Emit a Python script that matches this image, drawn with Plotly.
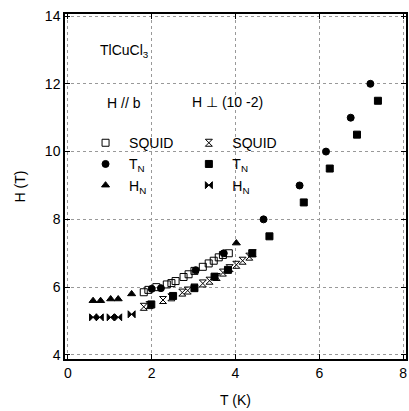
import plotly.graph_objects as go

# ---- data (T in K, H in T) ----
b_squid_T = [1.81, 1.92, 2.11, 2.36, 2.47, 2.57, 2.76, 2.88, 3.02, 3.22, 3.36, 3.48, 3.60, 3.70, 3.84]
b_squid_H = [5.85, 5.92, 6.00, 6.08, 6.12, 6.18, 6.30, 6.38, 6.48, 6.60, 6.70, 6.78, 6.88, 6.95, 7.00]

b_TN_T = [2.00, 2.22, 3.05, 3.72, 4.67, 5.53, 6.16, 6.75, 7.22]
b_TN_H = [5.95, 5.97, 6.50, 7.00, 8.00, 9.00, 10.00, 11.00, 12.00]

b_HN_T = [0.60, 0.78, 1.02, 1.20, 1.52, 4.02]
b_HN_H = [5.60, 5.60, 5.65, 5.65, 5.80, 7.30]

p_squid_T = [1.81, 1.95, 2.27, 2.47, 2.73, 2.86, 3.02, 3.22, 3.38, 3.55, 3.70, 3.86, 4.02, 4.17, 4.33, 4.41]
p_squid_H = [5.42, 5.47, 5.62, 5.70, 5.84, 5.90, 5.99, 6.11, 6.19, 6.30, 6.43, 6.56, 6.66, 6.78, 6.90, 7.00]

p_TN_T = [1.99, 2.51, 3.02, 3.50, 3.82, 4.40, 4.81, 5.63, 6.25, 6.90, 7.40]
p_TN_H = [5.49, 5.74, 5.97, 6.31, 6.51, 7.00, 7.50, 8.50, 9.50, 10.50, 11.50]

p_HN_T = [0.60, 0.76, 1.02, 1.20, 1.52]
p_HN_H = [5.11, 5.11, 5.11, 5.11, 5.20]

x_ticks = [0, 2, 4, 6, 8]
y_ticks = [4, 6, 8, 10, 12, 14]

FONT = "Liberation Sans, Arial, sans-serif"
FS = 14

fig = go.Figure()

def add(x, y, name, symbol, legend, size=7):
    fig.add_trace(go.Scatter(
        x=x, y=y, mode="markers", name=name, legend=legend,
        marker=dict(symbol=symbol, size=size, color="black",
                    line=dict(color="black", width=1)),
    ))

add(b_squid_T, b_squid_H, "SQUID", "square-open", "legend")
add(b_TN_T, b_TN_H, "T<sub>N</sub>", "circle", "legend")
add(b_HN_T, b_HN_H, "H<sub>N</sub>", "triangle-up", "legend")
add(p_squid_T, p_squid_H, "SQUID", "hourglass-open", "legend2")
add(p_TN_T, p_TN_H, "T<sub>N</sub>", "square", "legend2")
add(p_HN_T, p_HN_H, "H<sub>N</sub>", "bowtie", "legend2")

axis_common = dict(
    showline=True, linecolor="black", linewidth=1.5, mirror="all",
    ticks="inside", ticklen=5, tickcolor="black", tickwidth=1,
    showgrid=True, gridcolor="#999999", griddash="dot", gridwidth=1,
    zeroline=False, tickfont=dict(size=FS, color="black", family=FONT),
)

fig.update_xaxes(range=[-0.07, 8.07], tickvals=x_ticks,
                 title=dict(text="T (K)", font=dict(size=FS, color="black", family=FONT), standoff=16),
                 **axis_common)
fig.update_yaxes(range=[3.88, 14.06], tickvals=y_ticks,
                 title=dict(text="H (T)", font=dict(size=FS, color="black", family=FONT), standoff=16),
                 **axis_common)

leg_common = dict(
    bgcolor="rgba(0,0,0,0)", borderwidth=0, yanchor="top", xanchor="left",
    font=dict(size=FS, color="black", family=FONT), tracegroupgap=0,
    itemclick=False, itemwidth=37,
)
fig.update_layout(
    width=409, height=411,
    margin=dict(l=65, r=1, t=14, b=52),
    paper_bgcolor="white", plot_bgcolor="white",
    font=dict(family=FONT, color="black", size=FS),
    showlegend=True,
    legend=dict(x=0.050, y=0.672, **leg_common),
    legend2=dict(x=0.353, y=0.672, **leg_common),
    annotations=[
        dict(x=1.36, y=12.97, text="TlCuCl<sub>3</sub>", showarrow=False, xref="x", yref="y",
             font=dict(size=FS, family=FONT, color="black")),
        dict(x=1.35, y=11.42, text="H // b", showarrow=False, xref="x", yref="y",
             font=dict(size=FS, family=FONT, color="black")),
        dict(x=3.8, y=11.45, text="H ⊥ (10 -2)", showarrow=False, xref="x", yref="y",
             font=dict(size=FS, family=FONT, color="black")),
    ],
)

fig.write_html("out.html")
